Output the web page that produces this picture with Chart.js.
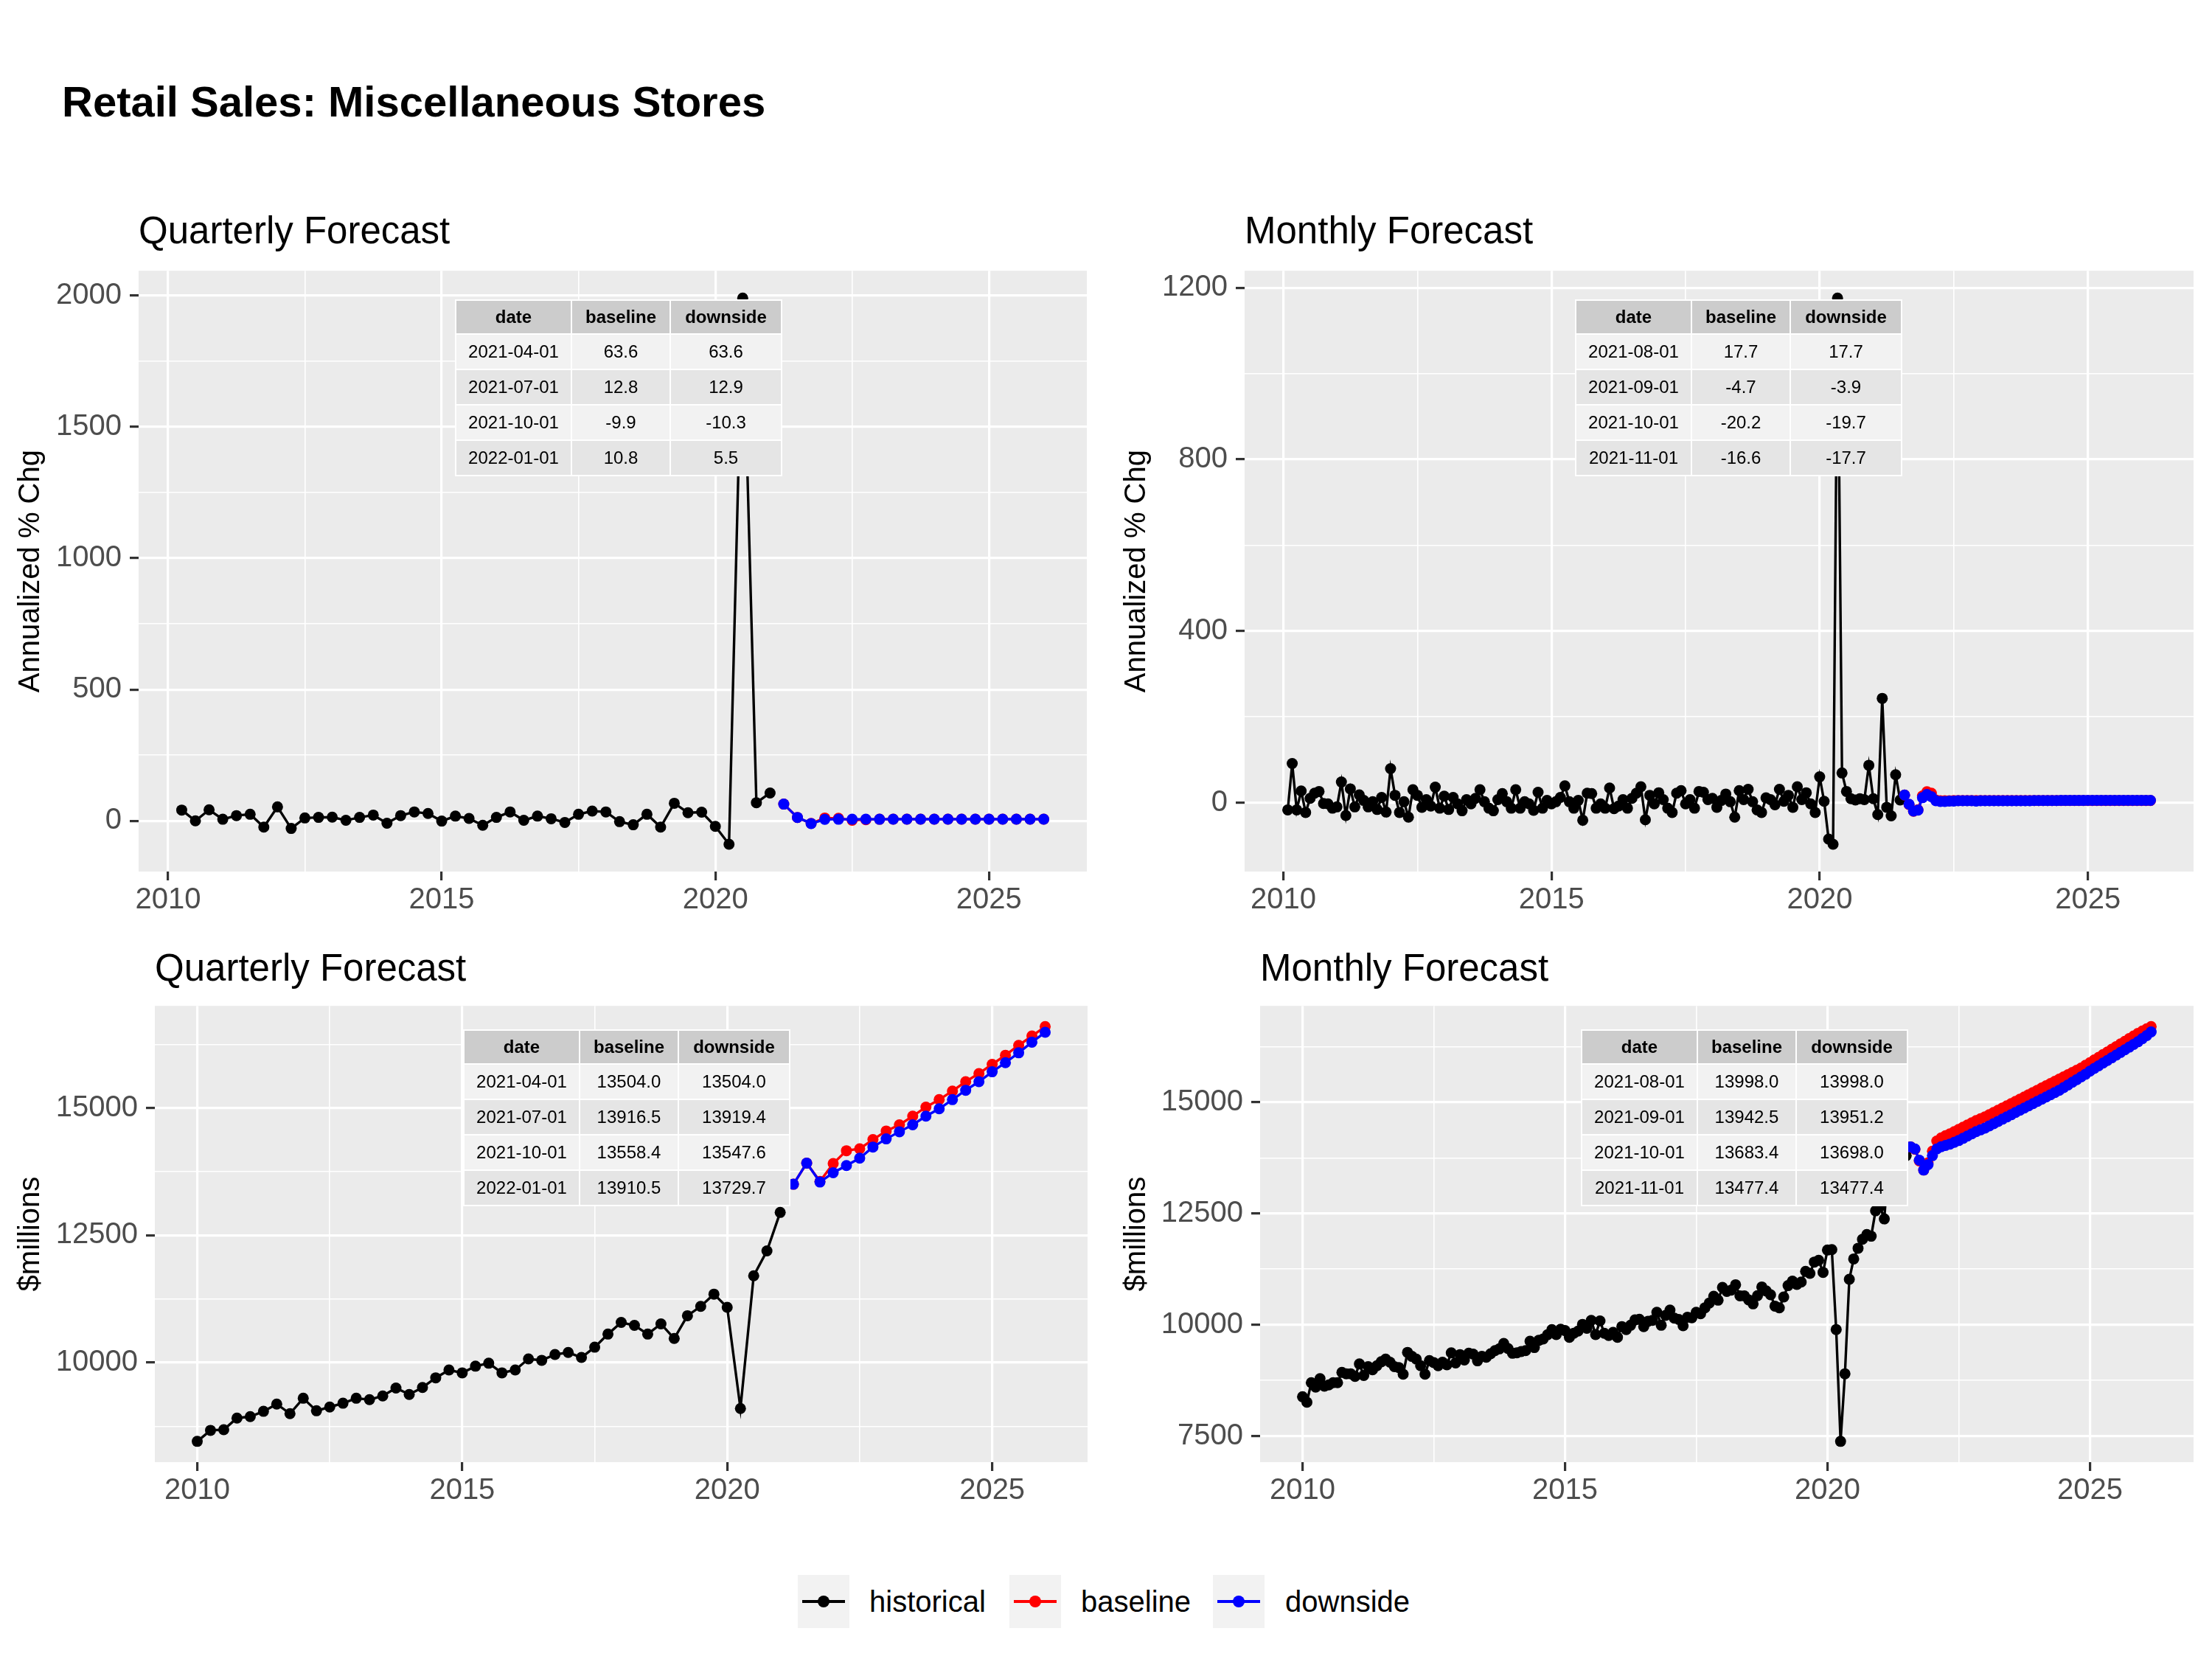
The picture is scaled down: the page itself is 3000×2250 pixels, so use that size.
<!DOCTYPE html>
<html>
<head>
<meta charset="utf-8">
<script src="https://cdn.jsdelivr.net/npm/chart.js@4.4.1/dist/chart.umd.min.js"></script>
<style>
  html, body { margin: 0; padding: 0; background: #ffffff; }
  #page { position: relative; width: 3000px; height: 2250px; overflow: hidden; font-family: 'Liberation Sans', Arial, sans-serif; }
  #page canvas { position: absolute; }
  #mainTitle { position: absolute; left: 84px; top: 109px; font-size: 58px; line-height: 58px; font-weight: bold; color: #000; white-space: nowrap; }
  .tbl { position: absolute; border-collapse: collapse; font-size: 24px; color: #000; z-index: 5; }
  .tbl th, .tbl td { border: 2px solid #ffffff; text-align: center; padding: 0; box-sizing: border-box; }
  .tbl th { background: #cccccc; height: 46px; font-weight: bold; }
  .tbl td { height: 48px; }
  .tbl tr.odd td { background: #f2f2f2; }
  .tbl tr.even td { background: #e5e5e5; }
  .lkey { position: absolute; width: 70px; height: 72px; background: #f2f2f2; }
  .lkey .ln { position: absolute; left: 6px; right: 6px; top: 34px; height: 4px; }
  .lkey .pt { position: absolute; left: 27px; top: 28px; width: 16px; height: 16px; border-radius: 50%; }
  .ltxt { position: absolute; font-size: 40px; line-height: 40px; top: 2152px; color: #000; white-space: nowrap; }
</style>
</head>
<body>
<div id="page">
  <div id="mainTitle">Retail Sales: Miscellaneous Stores</div>
</div>
<script>
// --- dates (decimal years) ---
function seq(y, m, n, step) {
    const out = [];
    for (let i = 0; i < n; i++) {
        const k = (m - 1) + i * step;
        out.push(y + Math.floor(k / 12) + (k % 12) / 12);
    }
    return out;
}

// quarterly: historical 2010-01 .. 2021-01, forecast 2021-04 .. 2026-01
const qDatesLvlHist = seq(2010, 1, 45, 3);
const qDatesPctHist = seq(2010, 4, 44, 3);
const qDatesFcst = seq(2021, 4, 20, 3);
// monthly: historical 2010-01 .. 2021-07, forecast 2021-08 .. 2026-03
const mDatesLvlHist = seq(2010, 1, 139, 1);
const mDatesPctHist = seq(2010, 2, 138, 1);
const mDatesFcst = seq(2021, 8, 56, 1);

// --- quarterly annualized % change ---
const qPctHist = [41, 0, 42, 6, 20, 25, -24, 53, -29, 11, 13, 14, 2, 13, 22, -9,
    20, 34, 28, -1, 18, 9, -17, 13, 34, 2, 18, 8, -6, 25, 37, 34,
    -3, -15, 25, -24, 67, 31, 33, -21, -89, 1990, 69, 106];
const qPctBase = [63.6, 12.8, -9.9, 10.8, 9.5, 2.0, 4.5, 6.0, 6.5, 6.5,
    6.5, 6.5, 6.5, 6.5, 6.5, 6.5, 6.5, 6.5, 6.5, 6.5];
const qPctDown = [63.6, 12.9, -10.3, 5.5, 6.0, 6.0, 6.5, 6.0, 6.5, 6.5,
    6.5, 6.5, 6.5, 6.5, 6.5, 6.5, 6.5, 6.5, 6.5, 6.5];

// --- quarterly levels ($millions) ---
const qLvlHist = [8454, 8671, 8683, 8912, 8940, 9044, 9187, 8998, 9301, 9055, 9129, 9204,
    9301, 9273, 9347, 9502, 9376, 9513, 9702, 9857, 9800, 9931, 9989, 9800,
    9857, 10074, 10046, 10160, 10200, 10103, 10304, 10561, 10790, 10733, 10561, 10762,
    10475, 10922, 11105, 11346, 11088, 9101, 11707, 12194, 12950];
const qLvlBase = [13504.0, 13916.5, 13558.4, 13910.5, 14162, 14201, 14380, 14549, 14671, 14840,
    15019, 15165, 15334, 15518, 15678, 15858, 16037, 16231, 16415, 16599];
const qLvlDown = [13504.0, 13919.4, 13547.6, 13729.7, 13871, 14016, 14234, 14394, 14535, 14671,
    14840, 14985, 15165, 15349, 15518, 15712, 15891, 16085, 16294, 16487];

// --- monthly annualized % change ---
const mPctHist = [
    -17, 91, -17, 27, -23, 10, 22, 26, -2, -3, -13,
    -10, 48, -30, 32, -10, 18, 5, -10, 2, -16, 12, -22,
    79, 17, -23, 2, -34, 30, 17, -11, 7, -8, 36, -13,
    15, -16, 12, -3, -19, 7, -3, 10, 30, 2, -13, -19,
    7, 21, 2, -13, 30, -13, 2, -3, -18, 24, -13, 5,
    -3, 2, 12, 39, 2, -13, 5, -41, 22, 21, -13, -3,
    -13, 34, -14, -8, 7, -13, 10, 22, 37, -40, 17, -3,
    23, 7, -13, -23, 22, 28, -3, 7, -13, 26, 24, 7,
    10, -11, 5, 20, 2, -34, 28, 7, 31, 2, -17, -23,
    11, 7, -5, 31, 3, 17, -11, 37, 7, 23, -3, -23,
    60, 3, -85, -97, 1176, 69, 26, 9, 6, 9, 7, 87,
    9, -28, 243, -11, -31, 65, 6];
const mPctBase = [
    17.7, -4.7, -20.2, -16.6, 15.5,
    25.4, 21.8, 6.1, 4.5, 4.5, 4.5, 4.8, 4.8, 4.8, 4.8, 4.8, 4.8,
    4.8, 4.8, 4.8, 4.8, 4.8, 4.8, 4.8, 4.8, 4.8, 4.8, 4.8, 4.8,
    4.8, 4.8, 4.8, 4.8, 4.8, 4.8, 4.8, 4.8, 4.8, 4.8, 4.8, 4.8,
    4.8, 4.8, 4.8, 4.8, 4.8, 4.8, 4.8, 4.8, 4.8, 4.8, 4.8, 4.8,
    4.8, 4.8, 4.8];
const mPctDown = [
    17.7, -3.9, -19.7, -17.7, 11.5,
    19.0, 13.8, 4.4, 2.6, 2.6, 3.4, 3.4, 4.3, 4.3, 4.3, 4.3, 3.4,
    4.5, 4.5, 4.5, 4.5, 4.5, 4.5, 4.5, 4.5, 4.5, 4.5, 4.5, 4.5,
    4.8, 4.8, 4.8, 4.8, 4.8, 4.8, 5.0, 5.0, 5.0, 5.0, 5.0, 5.0,
    5.2, 5.2, 5.2, 5.2, 5.2, 5.2, 5.2, 5.2, 5.2, 5.2, 5.2, 5.2,
    5.3, 5.3, 5.3];

// --- monthly levels ($millions) ---
const mLvlHist = [
    8383, 8260, 8700, 8600, 8790, 8620, 8650, 8700, 8700, 8930, 8900, 8900,
    8840, 9120, 8860, 9060, 8990, 9080, 9170, 9230, 9160, 9060, 9040, 8890,
    9380, 9290, 9230, 9080, 8890, 9195, 9150, 9080, 9157, 9100, 9370, 9142,
    9330, 9210, 9363, 9340, 9190, 9290, 9270, 9350, 9421, 9460, 9580, 9466,
    9360, 9370, 9398, 9420, 9630, 9489, 9650, 9680, 9776, 9890, 9780, 9901,
    9870, 9720, 9810, 9860, 10010, 9923, 10100, 9780, 10087, 9810, 9760, 9830,
    9720, 9960, 9891, 9990, 10110, 10122, 9960, 10080, 10098, 10280, 9990, 10210,
    10330, 10150, 10120, 9980, 10170, 10159, 10280, 10250, 10382, 10490, 10640, 10553,
    10840, 10750, 10780, 10900, 10650, 10649, 10560, 10470, 10653, 10850, 10760, 10676,
    10420, 10380, 10625, 10880, 10980, 10906, 10960, 11200, 11155, 11410, 11450, 11178,
    11680, 11690, 9894, 7380, 8900, 11023, 11480, 11720, 11921, 12030, 11990, 12562,
    12660, 12380, 13810, 13620, 13190, 13700, 13800];
const mLvlBase = [
    13998.0, 13942.5, 13683.4, 13477.4, 13640,
    13900, 14130, 14200, 14250, 14290, 14340, 14390, 14440, 14490, 14540, 14590, 14630,
    14670, 14720, 14770, 14820, 14870, 14920, 14970, 15020, 15070, 15120, 15170, 15220,
    15270, 15320, 15370, 15420, 15470, 15520, 15570, 15620, 15670, 15720, 15770, 15830,
    15890, 15950, 16010, 16070, 16130, 16190, 16250, 16310, 16370, 16430, 16490, 16550,
    16600, 16650, 16700];
const mLvlDown = [
    13998.0, 13951.2, 13698.0, 13477.4, 13600,
    13800, 13950, 14000, 14030, 14060, 14100, 14140, 14190, 14240, 14290, 14340, 14380,
    14420, 14470, 14520, 14570, 14620, 14670, 14720, 14770, 14820, 14870, 14920, 14970,
    15020, 15070, 15120, 15170, 15220, 15270, 15330, 15390, 15450, 15510, 15570, 15630,
    15700, 15760, 15820, 15880, 15940, 16000, 16060, 16120, 16180, 16240, 16300, 16360,
    16430, 16500, 16580];

// table dates
const qTblDates = ['2021-04-01', '2021-07-01', '2021-10-01', '2022-01-01'];
const mTblDates = ['2021-08-01', '2021-09-01', '2021-10-01', '2021-11-01'];

// ticks (major labelled, minor grid only)
const xMajor = [2010, 2015, 2020, 2025];
const xMinor = [2012.5, 2017.5, 2022.5];
const yMajorQPct = [0, 500, 1000, 1500, 2000];
const yMinorQPct = [250, 750, 1250, 1750];
const yMajorMPct = [0, 400, 800, 1200];
const yMinorMPct = [200, 600, 1000];
const yMajorQLvl = [10000, 12500, 15000];
const yMinorQLvl = [8750, 11250, 13750, 16250];
const yMajorMLvl = [7500, 10000, 12500, 15000];
const yMinorMLvl = [8750, 11250, 13750, 16250];

const FONT = "'Liberation Sans', Arial, sans-serif";
const page = document.getElementById('page');

// ggplot style expansion of 5% on each side
function ext(arrs) {
    const all = [].concat(...arrs);
    const lo = Math.min(...all), hi = Math.max(...all);
    const pad = (hi - lo) * 0.05;
    return [lo - pad, hi + pad];
}

const panelBg = {
    id: 'panelBg',
    beforeDraw(chart) {
        const { ctx, chartArea: a } = chart;
        ctx.save();
        ctx.fillStyle = '#ebebeb';
        ctx.fillRect(a.left, a.top, a.width, a.height);
        ctx.restore();
    }
};

function axisOpts(major, minor, lim, fit) {
    const all = major.concat(minor).filter(v => v >= lim[0] && v <= lim[1]).sort((a, b) => a - b);
    const isMajor = v => major.includes(v);
    return {
        type: 'linear',
        min: lim[0],
        max: lim[1],
        afterBuildTicks: axis => { axis.ticks = all.map(v => ({ value: v })); },
        afterFit: fit,
        border: { display: false },
        grid: {
            color: '#ffffff',
            lineWidth: c => isMajor(c.tick.value) ? 3.2 : 1.6,
            drawTicks: true,
            tickLength: 12,
            tickWidth: 3.2,
            tickColor: c => isMajor(c.tick.value) ? '#333333' : 'rgba(0,0,0,0)'
        },
        ticks: {
            autoSkip: false,
            maxRotation: 0,
            color: '#4d4d4d',
            font: { family: FONT, size: 40 },
            callback: v => isMajor(v) ? String(v) : ''
        }
    };
}

function series(name, xs, ys, color, order) {
    return {
        label: name,
        data: xs.map((x, i) => ({ x: x, y: ys[i] })),
        borderColor: color,
        backgroundColor: color,
        pointBackgroundColor: color,
        pointBorderWidth: 0,
        pointRadius: 7.5,
        borderWidth: 3.4,
        tension: 0,
        order: order
    };
}

function panel(p) {
    const canvas = document.createElement('canvas');
    canvas.width = p.w; canvas.height = p.h;
    canvas.style.left = p.left + 'px'; canvas.style.top = p.top + 'px';
    canvas.style.width = p.w + 'px'; canvas.style.height = p.h + 'px';
    page.appendChild(canvas);

    const xlim = ext(p.sets.map(s => s.x));
    const ylim = ext(p.sets.map(s => s.y));
    const xs = axisOpts(xMajor, xMinor, xlim, s => { s.height = p.xh; });
    xs.ticks.padding = 3;
    const ys = axisOpts(p.yMajor, p.yMinor, ylim, s => { s.width = p.yw; });
    ys.ticks.padding = 11;
    ys.title = { display: true, text: p.ytitle, color: '#000000', font: { family: FONT, size: 40 }, padding: { top: 18, bottom: 0 } };

    new Chart(canvas, {
        type: 'line',
        data: { datasets: p.sets.map(s => series(s.name, s.x, s.y, s.color, s.order)) },
        options: {
            responsive: false,
            animation: false,
            devicePixelRatio: 1,
            events: [],
            layout: { padding: { left: 0, right: p.padR, top: 0, bottom: 0 } },
            scales: { x: xs, y: ys },
            plugins: {
                legend: { display: false },
                tooltip: { enabled: false },
                title: {
                    display: true, text: p.title, align: 'start', fullSize: false,
                    color: '#000000', font: { family: FONT, size: 51, weight: 'normal' },
                    padding: { top: p.tpad[0], bottom: p.tpad[1] }
                }
            }
        },
        plugins: [panelBg]
    });
}

function table(left, top, dates, base, down) {
    const t = document.createElement('table');
    t.className = 'tbl';
    t.style.left = left + 'px'; t.style.top = top + 'px';
    const widths = [157, 134, 151];
    let html = '<tr>' + ['date', 'baseline', 'downside'].map((h, i) => `<th style="width:${widths[i]}px">${h}</th>`).join('') + '</tr>';
    dates.forEach((d, i) => {
        html += `<tr class="${i % 2 === 0 ? 'odd' : 'even'}"><td>${d}</td><td>${base[i].toFixed(1)}</td><td>${down[i].toFixed(1)}</td></tr>`;
    });
    t.innerHTML = html;
    page.appendChild(t);
}

const BLACK = '#000000', RED = '#ff0000', BLUE = '#0000ff';

panel({
    left: 0, top: 260, w: 1500, h: 1000, yw: 188, xh: 78, padR: 26, tpad: [25, 21],
    title: 'Quarterly Forecast', ytitle: 'Annualized % Chg', yMajor: yMajorQPct, yMinor: yMinorQPct,
    sets: [
        { name: 'historical', x: qDatesPctHist, y: qPctHist, color: BLACK, order: 2 },
        { name: 'baseline', x: qDatesFcst, y: qPctBase, color: RED, order: 1 },
        { name: 'downside', x: qDatesFcst, y: qPctDown, color: BLUE, order: 0 }
    ]
});
panel({
    left: 1500, top: 260, w: 1500, h: 1000, yw: 188, xh: 78, padR: 25, tpad: [25, 21],
    title: 'Monthly Forecast', ytitle: 'Annualized % Chg', yMajor: yMajorMPct, yMinor: yMinorMPct,
    sets: [
        { name: 'historical', x: mDatesPctHist, y: mPctHist, color: BLACK, order: 2 },
        { name: 'baseline', x: mDatesFcst, y: mPctBase, color: RED, order: 1 },
        { name: 'downside', x: mDatesFcst, y: mPctDown, color: BLUE, order: 0 }
    ]
});
panel({
    left: 0, top: 1250, w: 1500, h: 850, yw: 210, xh: 117, padR: 25, tpad: [35, 18],
    title: 'Quarterly Forecast', ytitle: '$millions', yMajor: yMajorQLvl, yMinor: yMinorQLvl,
    sets: [
        { name: 'historical', x: qDatesLvlHist, y: qLvlHist, color: BLACK, order: 2 },
        { name: 'baseline', x: qDatesFcst, y: qLvlBase, color: RED, order: 1 },
        { name: 'downside', x: qDatesFcst, y: qLvlDown, color: BLUE, order: 0 }
    ]
});
panel({
    left: 1500, top: 1250, w: 1500, h: 850, yw: 209, xh: 117, padR: 25, tpad: [35, 18],
    title: 'Monthly Forecast', ytitle: '$millions', yMajor: yMajorMLvl, yMinor: yMinorMLvl,
    sets: [
        { name: 'historical', x: mDatesLvlHist, y: mLvlHist, color: BLACK, order: 2 },
        { name: 'baseline', x: mDatesFcst, y: mLvlBase, color: RED, order: 1 },
        { name: 'downside', x: mDatesFcst, y: mLvlDown, color: BLUE, order: 0 }
    ]
});

// the 4 small forecast tables
table(617, 406, qTblDates, qPctBase.slice(0, 4), qPctDown.slice(0, 4));
table(2136, 406, mTblDates, mPctBase.slice(0, 4), mPctDown.slice(0, 4));
table(628, 1396, qTblDates, qLvlBase.slice(0, 4), qLvlDown.slice(0, 4));
table(2144, 1396, mTblDates, mLvlBase.slice(0, 4), mLvlDown.slice(0, 4));

// shared legend
const legendItems = [
    { name: 'historical', color: BLACK, key: 1082, text: 1179 },
    { name: 'baseline', color: RED, key: 1369, text: 1466 },
    { name: 'downside', color: BLUE, key: 1645, text: 1743 }
];
legendItems.forEach(it => {
    const k = document.createElement('div');
    k.className = 'lkey';
    k.style.left = it.key + 'px'; k.style.top = '2136px';
    k.innerHTML = `<div class="ln" style="background:${it.color}"></div><div class="pt" style="background:${it.color}"></div>`;
    page.appendChild(k);
    const t = document.createElement('div');
    t.className = 'ltxt';
    t.style.left = it.text + 'px';
    t.textContent = it.name;
    page.appendChild(t);
});
</script>
</body>
</html>
